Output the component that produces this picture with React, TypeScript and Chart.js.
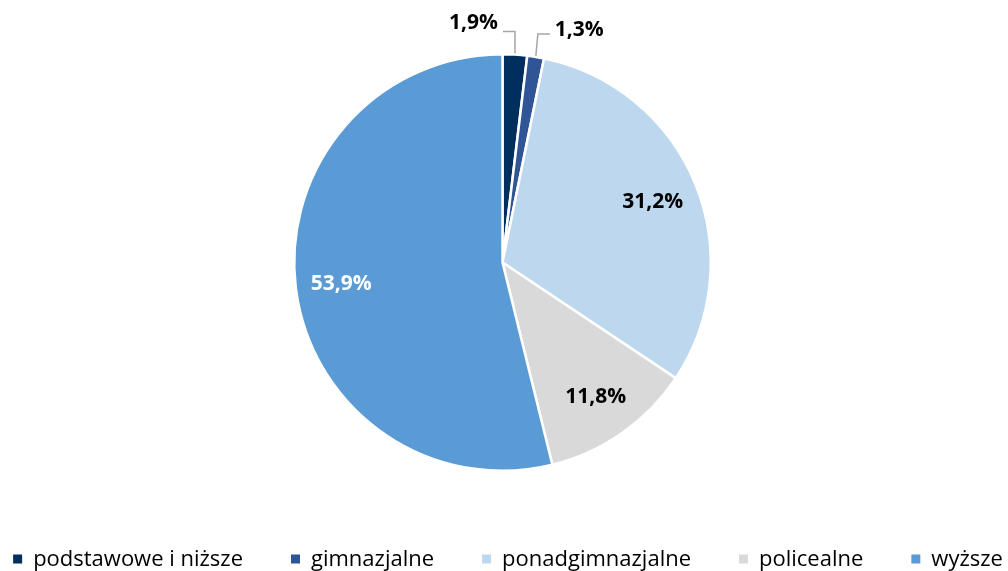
import React, { useEffect, useRef } from "react";
import { Chart, registerables } from "chart.js";

Chart.register(...registerables);

const categories = ["podstawowe i niższe", "gimnazjalne", "ponadgimnazjalne", "policealne", "wyższe"];
const shares = [1.9, 1.3, 31.2, 11.8, 53.9];
const valueLabels = ["1,9%", "1,3%", "31,2%", "11,8%", "53,9%"];
const sliceColors = ["#002f5e", "#2f5597", "#bdd7ee", "#d9d9d9", "#5b9bd5"];
const labelColors = ["#000000", "#000000", "#000000", "#000000", "#ffffff"];

const FONT = "'Open Sans', Lato, sans-serif";

const labelPlugin = {
  id: "sliceLabels",
  afterDatasetsDraw(chart: any) {
    const ctx = chart.ctx;
    const meta = chart.getDatasetMeta(0);
    let smallIdx = 0;
    ctx.save();
    ctx.font = `bold 21px ${FONT}`;
    const capHalf = 7.5;
    meta.data.forEach((arc: any, i: number) => {
      const p = arc.getProps(["x", "y", "startAngle", "endAngle", "outerRadius"], true);
      const mid = (p.startAngle + p.endAngle) / 2;
      const R = p.outerRadius;
      ctx.textBaseline = "alphabetic";
      if (shares[i] >= 5) {
        const r = R * 0.78;
        ctx.fillStyle = labelColors[i];
        ctx.textAlign = "center";
        ctx.fillText(valueLabels[i], p.x + Math.cos(mid) * r, p.y + Math.sin(mid) * r + capHalf);
      } else {
        const dir = smallIdx % 2 === 0 ? -1 : 1;
        smallIdx++;
        const x0 = p.x + Math.cos(mid) * (R + 1);
        const y0 = p.y + Math.sin(mid) * (R + 1);
        const ex = x0 + (dir > 0 ? 2 : 0);
        const ey = y0 - 22;
        const hx = ex + dir * 12;
        ctx.strokeStyle = "#a6a6a6";
        ctx.lineWidth = 1.5;
        ctx.beginPath();
        ctx.moveTo(x0, y0);
        ctx.lineTo(ex, ey);
        ctx.lineTo(hx, ey);
        ctx.stroke();
        ctx.fillStyle = labelColors[i];
        ctx.textAlign = dir > 0 ? "left" : "right";
        ctx.fillText(valueLabels[i], hx + dir * 5, ey - (dir > 0 ? 5 : 10) + capHalf);
      }
    });
    ctx.restore();
  },
};

const legendPlugin = {
  id: "bottomLegend",
  afterDraw(chart: any) {
    const ctx = chart.ctx;
    const labels: string[] = chart.data.labels;
    const colors: string[] = chart.data.datasets[0].backgroundColor;
    ctx.save();
    ctx.font = `22px ${FONT}`;
    const box = 9;
    const gap = 11;
    const itemGap = 48;
    const widths = labels.map((l) => ctx.measureText(l).width);
    const total = widths.reduce((a, w) => a + box + gap + w, 0) + itemGap * (labels.length - 1);
    let x = chart.width / 2 + 4 - total / 2;
    const y = 559;
    labels.forEach((l, i) => {
      ctx.fillStyle = colors[i];
      ctx.fillRect(x, y - box / 2, box, box);
      x += box + gap;
      ctx.fillStyle = "#000000";
      ctx.textAlign = "left";
      ctx.textBaseline = "middle";
      ctx.fillText(l, x, y + 1);
      x += widths[i] + itemGap;
    });
    ctx.restore();
  },
};

export default function App() {
  const ref = useRef<HTMLCanvasElement | null>(null);
  useEffect(() => {
    document.body.style.margin = "0";
    const canvas = ref.current;
    if (!canvas) return;
    const chart = new Chart(canvas, {
      type: "pie",
      data: {
        labels: categories,
        datasets: [
          {
            data: shares,
            backgroundColor: sliceColors,
            borderColor: "#ffffff",
            borderWidth: 2.5,
          },
        ],
      },
      options: {
        responsive: false,
        animation: false,
        devicePixelRatio: 1,
        layout: { padding: { top: 53, bottom: 99, left: 0, right: 3 } },
        plugins: {
          legend: { display: false },
          tooltip: { enabled: false },
        },
        events: [],
      },
      plugins: [labelPlugin, legendPlugin],
    });
    return () => chart.destroy();
  }, []);
  return (
    <div style={{ width: 1008, height: 571, background: "#ffffff" }}>
      <canvas ref={ref} width={1008} height={571} style={{ display: "block" }} />
    </div>
  );
}
